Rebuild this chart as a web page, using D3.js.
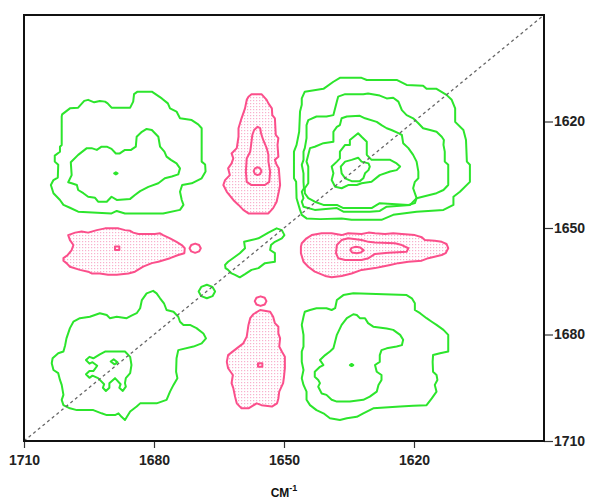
<!DOCTYPE html>
<html>
<head>
<meta charset="utf-8">
<script src="https://cdn.jsdelivr.net/npm/d3@7"></script>
<style>
  body { margin: 0; background: #fff; }
  svg { display: block; }
</style>
</head>
<body>
<svg id="chart"></svg>
<script>
// wavenumber ticks (cm-1)
const xTicks = [1710, 1680, 1650, 1620];
const yTicks = [1620, 1650, 1680, 1710];

// contour lines, points are [x cm-1, y cm-1]
// green = positive, pink = negative (dotted fill)
const greenTL1 = [[1701.2,1618.0],[1699.4,1616.3],[1697.5,1616.1],[1696.1,1614.2],[1695.2,1613.9],[1693.8,1614.6],[1692.5,1614.2],[1691.3,1614.4],[1690.7,1614.9],[1689.8,1616.1],[1685.5,1616.1],[1684.8,1614.4],[1684.6,1612.3],[1683.8,1611.6],[1680.5,1611.6],[1678.2,1613.5],[1676.8,1614.9],[1676.3,1616.3],[1674.8,1617.2],[1674.0,1619.1],[1671.3,1619.6],[1669.8,1620.8],[1669.0,1621.9],[1669.0,1631.3],[1668.2,1632.1],[1668.1,1634.1],[1669.0,1636.0],[1671.3,1637.4],[1673.5,1637.9],[1674.0,1639.8],[1673.6,1642.1],[1673.2,1643.5],[1674.0,1644.9],[1677.9,1645.9],[1686.7,1645.9],[1688.6,1645.2],[1689.8,1645.9],[1697.5,1645.4],[1699.4,1644.3],[1700.9,1643.5],[1701.7,1642.1],[1703.2,1640.2],[1703.8,1637.9],[1703.2,1636.5],[1702.2,1635.8],[1702.1,1632.2],[1702.9,1631.3],[1702.9,1629.6],[1701.7,1628.5],[1701.7,1627.1],[1701.3,1626.6],[1701.3,1618.6]];
const greenTL2 = [[1699.2,1631.5],[1697.5,1629.4],[1695.5,1627.5],[1694.4,1627.5],[1693.2,1628.0],[1692.1,1627.1],[1690.9,1627.1],[1689.8,1627.7],[1688.8,1629.0],[1687.9,1629.0],[1686.7,1628.0],[1685.3,1628.0],[1684.2,1627.1],[1684.0,1624.3],[1682.8,1622.9],[1681.7,1622.1],[1680.5,1622.4],[1679.0,1624.3],[1678.6,1627.1],[1677.6,1628.5],[1677.1,1629.9],[1676.1,1630.8],[1674.8,1631.8],[1674.0,1633.2],[1674.4,1634.9],[1675.9,1635.5],[1677.5,1636.0],[1679.0,1637.4],[1681.3,1638.4],[1683.2,1639.6],[1684.4,1640.7],[1685.5,1641.8],[1688.6,1642.1],[1689.8,1641.2],[1690.9,1642.6],[1692.9,1642.6],[1693.6,1641.5],[1695.2,1641.2],[1696.3,1640.2],[1697.5,1639.3],[1697.8,1637.9],[1699.0,1637.4],[1699.8,1637.1],[1699.0,1635.1]];
const greenTL3 = [[1689.2,1634.6],[1688.8,1634.3],[1688.4,1634.6],[1688.8,1634.9]];

const pinkTop1 = [[1658.2,1613.0],[1657.5,1612.3],[1655.2,1612.3],[1654.0,1613.9],[1653.6,1614.9],[1652.8,1616.3],[1652.7,1618.2],[1652.1,1619.1],[1651.9,1623.8],[1651.3,1624.7],[1651.5,1626.6],[1651.3,1629.9],[1652.1,1630.8],[1651.7,1632.2],[1651.2,1633.2],[1650.9,1637.9],[1651.2,1639.8],[1651.7,1642.6],[1652.5,1644.4],[1653.6,1645.9],[1658.2,1645.9],[1659.4,1644.9],[1660.5,1643.5],[1661.7,1642.1],[1663.2,1639.8],[1664.0,1637.9],[1663.6,1636.5],[1662.5,1635.1],[1662.9,1633.2],[1662.1,1631.8],[1661.7,1630.4],[1662.1,1629.0],[1660.9,1627.5],[1660.5,1624.3],[1660.5,1621.9],[1659.8,1619.1],[1659.0,1616.3],[1658.6,1613.9]];
const pinkTop2 = [[1656.9,1622.4],[1656.1,1621.5],[1655.5,1621.9],[1655.3,1623.3],[1654.8,1625.2],[1654.0,1627.5],[1653.6,1629.4],[1653.6,1631.3],[1653.2,1634.1],[1653.4,1637.0],[1654.4,1637.9],[1657.5,1637.9],[1658.6,1637.0],[1658.8,1634.1],[1658.6,1630.4],[1657.8,1628.5],[1657.5,1625.7],[1657.3,1623.8]];
const pinkTop3 = [[1657.0,1634.0],[1656.7,1633.2],[1656.1,1632.9],[1655.5,1633.2],[1655.2,1634.0],[1655.5,1634.8],[1656.1,1635.1],[1656.7,1634.8]];

const greenTR1 = [[1645.9,1613.5],[1645.2,1611.6],[1640.9,1610.8],[1638.6,1608.8],[1637.1,1607.7],[1632.1,1607.7],[1630.9,1608.3],[1624.0,1608.3],[1621.7,1609.7],[1617.9,1609.9],[1617.1,1610.8],[1614.8,1610.8],[1612.5,1612.5],[1611.3,1613.9],[1610.5,1616.3],[1610.5,1620.1],[1608.6,1622.4],[1608.0,1625.2],[1607.8,1631.3],[1607.1,1632.2],[1607.1,1637.0],[1609.4,1639.8],[1610.9,1641.2],[1610.9,1643.5],[1613.2,1644.9],[1619.4,1645.4],[1624.8,1646.3],[1627.5,1647.7],[1634.4,1647.7],[1636.7,1647.3],[1641.7,1647.5],[1644.8,1647.3],[1645.9,1646.3],[1646.3,1644.9],[1647.1,1641.6],[1647.2,1637.0],[1647.7,1636.0],[1647.7,1628.5],[1647.1,1626.6],[1646.5,1622.9],[1646.3,1617.2],[1645.9,1615.3]];
const greenTR2 = [[1637.8,1614.4],[1637.5,1613.0],[1635.9,1612.3],[1631.7,1612.3],[1630.6,1612.1],[1627.9,1612.7],[1626.3,1613.5],[1624.8,1613.3],[1623.6,1614.4],[1622.8,1616.8],[1621.7,1618.2],[1620.2,1619.1],[1619.0,1620.5],[1617.9,1621.9],[1616.3,1622.4],[1614.8,1622.9],[1613.6,1624.3],[1613.1,1625.2],[1613.2,1626.6],[1612.9,1628.5],[1612.9,1631.3],[1612.1,1632.2],[1612.1,1637.9],[1613.2,1639.3],[1614.8,1640.2],[1619.4,1641.6],[1620.9,1643.5],[1626.3,1644.0],[1627.9,1645.2],[1630.2,1645.4],[1636.3,1645.4],[1637.8,1644.4],[1642.9,1644.9],[1645.5,1644.0],[1645.9,1642.6],[1645.5,1641.6],[1645.9,1639.8],[1645.4,1638.8],[1645.5,1637.0],[1645.5,1634.6],[1645.9,1632.2],[1645.5,1630.8],[1645.5,1628.5],[1645.2,1627.5],[1644.8,1624.7],[1644.8,1621.0],[1644.4,1619.6],[1642.5,1618.6],[1640.2,1618.6],[1638.6,1618.2],[1638.2,1616.3]];
const greenTR3 = [[1637.1,1621.0],[1636.7,1619.1],[1635.5,1618.6],[1632.5,1618.4],[1631.3,1619.1],[1628.6,1620.1],[1627.5,1621.0],[1626.3,1621.9],[1625.2,1622.4],[1623.6,1623.3],[1622.8,1623.8],[1622.5,1626.1],[1621.3,1627.5],[1620.2,1629.4],[1619.4,1631.3],[1619.0,1634.1],[1619.0,1636.0],[1619.8,1637.0],[1620.2,1638.8],[1619.4,1641.6],[1619.8,1643.0],[1621.3,1643.5],[1627.9,1643.0],[1629.8,1644.4],[1636.3,1644.4],[1637.8,1643.5],[1640.9,1643.5],[1642.9,1642.6],[1644.4,1641.6],[1645.2,1640.2],[1645.2,1638.8],[1644.4,1637.4],[1644.4,1632.7],[1644.8,1631.3],[1644.4,1629.4],[1644.0,1627.5],[1642.9,1627.1],[1640.9,1626.1],[1638.6,1625.7],[1638.6,1622.9],[1637.8,1621.5]];
const greenTR4 = [[1634.8,1625.2],[1632.9,1623.3],[1632.1,1624.3],[1630.9,1625.7],[1630.9,1629.4],[1629.8,1630.8],[1625.5,1630.8],[1624.0,1631.8],[1623.2,1632.7],[1624.0,1633.7],[1625.5,1634.1],[1627.9,1635.1],[1629.8,1637.0],[1632.1,1637.4],[1633.2,1637.9],[1635.2,1637.9],[1636.7,1638.8],[1638.2,1638.4],[1639.0,1636.5],[1638.6,1634.6],[1639.0,1632.7],[1637.8,1631.3],[1637.1,1630.4],[1637.1,1628.5],[1635.9,1626.6],[1634.8,1626.6]];
const greenTR5 = [[1635.9,1631.3],[1634.4,1630.8],[1632.9,1630.2],[1632.1,1631.3],[1630.5,1631.8],[1630.2,1632.7],[1630.5,1633.7],[1631.3,1634.6],[1631.7,1636.0],[1632.5,1636.8],[1634.4,1636.8],[1635.9,1636.0],[1636.7,1634.6],[1636.9,1632.7]];

const pinkLeft1 = [[1699.8,1652.0],[1698.2,1651.3],[1696.7,1651.0],[1695.2,1651.3],[1693.2,1650.6],[1691.3,1650.1],[1688.2,1650.1],[1686.7,1650.6],[1685.5,1650.8],[1684.8,1651.3],[1683.6,1651.7],[1679.8,1651.7],[1678.6,1651.5],[1677.9,1652.0],[1676.3,1652.9],[1674.8,1653.9],[1673.6,1654.8],[1672.9,1655.7],[1673.0,1657.1],[1674.4,1657.6],[1676.3,1658.5],[1679.0,1659.5],[1680.5,1659.9],[1682.5,1660.9],[1684.4,1662.3],[1685.9,1662.8],[1688.6,1663.2],[1690.6,1663.2],[1692.5,1662.8],[1694.4,1662.8],[1695.2,1662.3],[1697.1,1661.8],[1699.4,1660.9],[1700.2,1659.9],[1700.9,1659.2],[1700.9,1658.5],[1699.9,1657.6],[1699.0,1656.2],[1698.6,1654.8],[1699.4,1653.4]];
const pinkLeft2 = [[1689.0,1655.2],[1688.0,1655.2],[1688.0,1656.2],[1689.0,1656.2]];
const pinkLeft3 = [[1671.8,1655.7],[1671.4,1654.8],[1670.5,1654.4],[1669.6,1654.8],[1669.2,1655.7],[1669.6,1656.6],[1670.5,1657.0],[1671.4,1656.6]];

const greenMid1 = [[1663.6,1660.4],[1662.9,1659.5],[1661.3,1658.1],[1660.2,1657.1],[1659.0,1655.7],[1659.2,1653.9],[1657.5,1653.4],[1655.9,1652.9],[1653.6,1651.3],[1651.7,1650.1],[1650.5,1650.6],[1649.9,1652.0],[1650.5,1652.9],[1652.1,1653.9],[1653.0,1654.8],[1653.2,1656.2],[1652.1,1657.1],[1652.1,1659.5],[1654.4,1659.9],[1655.9,1661.3],[1657.5,1661.8],[1659.0,1663.0],[1660.2,1663.9],[1661.3,1663.2],[1662.1,1662.8],[1662.9,1661.8],[1663.5,1661.3]];
const greenMid2 = [[1669.7,1667.9],[1669.1,1666.6],[1667.8,1666.0],[1666.5,1666.6],[1665.9,1667.9],[1666.5,1669.2],[1667.8,1669.8],[1669.1,1669.2]];

const pinkRight1 = [[1645.9,1654.3],[1644.8,1652.9],[1643.6,1652.0],[1641.3,1651.5],[1639.0,1651.5],[1636.7,1652.0],[1635.2,1651.5],[1632.1,1651.7],[1630.5,1651.3],[1629.0,1651.5],[1626.7,1651.7],[1624.8,1651.5],[1622.8,1651.7],[1619.8,1652.0],[1618.2,1652.6],[1617.5,1653.4],[1615.2,1653.6],[1613.6,1653.9],[1612.5,1654.5],[1612.1,1655.7],[1612.7,1657.1],[1613.6,1657.6],[1616.7,1658.5],[1618.2,1659.2],[1621.3,1659.5],[1623.6,1659.9],[1625.5,1660.4],[1627.5,1660.9],[1629.0,1661.3],[1632.1,1661.8],[1634.4,1662.8],[1636.7,1663.5],[1639.0,1663.9],[1640.5,1663.5],[1642.9,1662.3],[1644.4,1660.9],[1645.5,1659.5],[1646.1,1657.1],[1646.1,1655.3]];
const pinkRight2 = [[1637.8,1654.8],[1636.7,1653.4],[1635.2,1652.9],[1632.1,1653.4],[1630.5,1653.9],[1629.0,1654.1],[1624.4,1654.3],[1622.8,1654.8],[1621.3,1655.7],[1621.7,1656.7],[1625.9,1657.0],[1629.0,1657.3],[1630.5,1658.5],[1632.1,1659.0],[1635.9,1659.0],[1637.5,1658.5],[1638.0,1657.1]];
const pinkRight3 = [[1631.6,1656.3],[1632.4,1655.5],[1633.4,1655.3],[1634.4,1655.6],[1634.7,1656.2],[1634.3,1656.9],[1633.2,1657.1],[1632.3,1656.9]];

const greenBL1 = [[1703.4,1686.7],[1702.1,1685.3],[1700.9,1684.8],[1700.5,1683.0],[1700.2,1681.1],[1699.4,1678.2],[1698.6,1676.4],[1697.1,1675.4],[1694.8,1675.0],[1692.5,1674.0],[1690.9,1674.5],[1690.2,1675.4],[1688.6,1675.0],[1686.3,1675.4],[1685.2,1674.7],[1684.0,1674.0],[1683.2,1672.6],[1682.8,1670.3],[1681.7,1668.4],[1680.2,1667.7],[1679.4,1668.4],[1678.6,1669.8],[1677.7,1671.2],[1677.1,1673.1],[1675.5,1673.6],[1674.4,1675.0],[1674.0,1676.4],[1673.2,1677.3],[1671.7,1677.3],[1670.2,1678.2],[1668.6,1679.7],[1668.0,1681.1],[1669.0,1682.5],[1670.9,1683.4],[1674.4,1684.4],[1674.8,1686.7],[1674.9,1690.5],[1674.6,1692.3],[1675.5,1694.2],[1676.3,1696.1],[1677.1,1698.4],[1679.4,1699.4],[1683.2,1699.4],[1684.0,1700.3],[1685.5,1701.7],[1686.7,1704.1],[1687.5,1703.2],[1688.2,1702.2],[1689.0,1702.7],[1690.9,1702.7],[1692.1,1702.2],[1694.0,1701.3],[1697.8,1701.3],[1699.4,1700.8],[1700.9,1699.9],[1701.3,1698.4],[1700.9,1697.0],[1701.3,1694.2],[1701.7,1692.8],[1702.1,1690.9],[1703.2,1690.0],[1703.6,1688.1]];
const greenBL2 = [[1692.5,1685.6],[1691.3,1684.8],[1686.7,1684.8],[1685.5,1686.3],[1685.2,1688.6],[1685.5,1690.9],[1686.5,1692.3],[1686.7,1693.7],[1686.5,1694.7],[1687.2,1695.9],[1688.0,1695.0],[1687.7,1694.0],[1689.0,1692.3],[1690.3,1693.7],[1690.3,1695.0],[1691.1,1695.9],[1691.8,1695.0],[1691.5,1694.0],[1692.9,1692.3],[1694.2,1691.6],[1694.9,1692.2],[1695.7,1691.2],[1694.9,1690.3],[1694.0,1690.3],[1693.1,1688.8],[1694.2,1687.8],[1694.9,1688.2],[1695.7,1687.2],[1694.9,1686.3],[1694.0,1686.7]];
const greenBL3 = [[1690.0,1687.6],[1689.3,1687.0],[1688.4,1687.8],[1689.1,1688.4]];

const pinkBottom1 = [[1657.1,1674.3],[1655.5,1673.1],[1653.2,1673.6],[1652.5,1675.0],[1652.1,1676.8],[1651.3,1677.8],[1651.3,1679.7],[1650.9,1681.1],[1651.1,1683.4],[1650.5,1684.8],[1649.8,1686.3],[1649.8,1689.5],[1650.0,1691.9],[1650.2,1693.7],[1651.1,1696.1],[1651.3,1698.0],[1651.6,1699.4],[1652.8,1700.3],[1655.2,1699.9],[1656.3,1699.4],[1658.2,1700.8],[1659.8,1700.8],[1660.9,1699.4],[1661.3,1697.5],[1661.7,1695.1],[1662.1,1693.7],[1661.8,1691.4],[1662.9,1689.5],[1663.2,1687.7],[1662.9,1685.8],[1660.9,1683.9],[1659.4,1682.5],[1658.6,1680.6],[1658.2,1677.3],[1657.8,1675.4]];
const pinkBottom2 = [[1656.75,1670.6],[1656.35,1669.65],[1655.4,1669.25],[1654.45,1669.65],[1654.05,1670.6],[1654.45,1671.55],[1655.4,1671.95],[1656.35,1671.55]];
const pinkBottom3 = [[1656.0,1688.1],[1655.0,1688.1],[1655.0,1689.1],[1656.0,1689.1]];

const greenBR1 = [[1645.2,1673.6],[1644.0,1673.1],[1642.5,1672.6],[1640.2,1672.6],[1639.0,1673.1],[1638.2,1672.6],[1637.8,1670.3],[1636.3,1668.9],[1634.0,1668.4],[1621.7,1668.9],[1620.5,1669.8],[1619.8,1671.2],[1619.8,1673.1],[1618.6,1674.0],[1617.1,1675.4],[1615.9,1676.4],[1614.8,1677.3],[1613.2,1678.7],[1612.1,1680.1],[1612.1,1684.8],[1614.0,1685.3],[1615.6,1685.8],[1615.7,1687.7],[1615.6,1690.5],[1614.8,1691.4],[1614.6,1692.8],[1615.2,1694.2],[1614.8,1696.1],[1615.9,1698.0],[1617.1,1699.9],[1620.2,1700.1],[1623.2,1700.3],[1629.4,1700.8],[1631.7,1702.2],[1633.2,1703.2],[1635.5,1703.6],[1637.1,1704.1],[1639.4,1703.6],[1640.9,1702.2],[1642.5,1701.3],[1644.0,1699.9],[1644.8,1698.4],[1644.8,1696.1],[1645.5,1694.2],[1645.9,1692.3],[1645.5,1690.0],[1645.9,1687.7],[1645.9,1684.8],[1645.5,1683.4],[1645.5,1680.1],[1645.9,1677.3],[1645.5,1675.0]];
const greenBR2 = [[1637.8,1680.1],[1636.7,1677.3],[1635.5,1675.4],[1634.0,1674.3],[1633.2,1674.5],[1632.5,1675.4],[1631.3,1675.4],[1630.6,1676.8],[1629.4,1677.8],[1626.3,1678.3],[1624.8,1678.7],[1623.2,1680.1],[1622.5,1681.5],[1622.8,1683.0],[1624.0,1683.4],[1626.3,1683.9],[1627.5,1684.4],[1627.9,1685.8],[1627.9,1687.7],[1629.0,1688.6],[1628.6,1690.5],[1627.5,1691.4],[1627.5,1692.8],[1628.2,1694.2],[1628.6,1696.1],[1630.2,1697.5],[1631.7,1698.4],[1634.8,1698.9],[1637.8,1698.9],[1639.0,1698.4],[1640.2,1697.0],[1641.3,1696.6],[1642.1,1694.7],[1641.7,1693.7],[1642.1,1692.8],[1642.9,1691.9],[1642.9,1690.5],[1641.7,1689.1],[1640.9,1688.6],[1641.7,1687.2],[1640.5,1685.8],[1639.4,1684.8],[1638.6,1683.9],[1638.2,1682.0]];
const greenBR3 = [[1634.8,1688.6],[1634.4,1688.3],[1634.0,1688.6],[1634.4,1688.9]];

const greenLines = [greenTL1, greenTL2, greenTL3, greenTR1, greenTR2, greenTR3, greenTR4, greenTR5,
  greenMid1, greenMid2, greenBL1, greenBL2, greenBL3, greenBR1, greenBR2, greenBR3];
const pinkLines = [pinkTop1, pinkTop2, pinkTop3, pinkLeft1, pinkLeft2, pinkLeft3,
  pinkRight1, pinkRight2, pinkRight3, pinkBottom1, pinkBottom2, pinkBottom3];

const width = 590;
const height = 502;
const green = "#2ce52c";
const pink = "#fb4f8b";

const svg = d3.select("#chart")
  .attr("width", width)
  .attr("height", height);

const x = d3.scaleLinear().domain([1710, 1590]).range([24, 544]);
const y = d3.scaleLinear().domain([1590, 1710]).range([15, 441]);

const contour = d3.line()
  .x(d => x(d[0]))
  .y(d => y(d[1]))
  .curve(d3.curveLinearClosed);

// dotted fill used inside the negative peaks
const pattern = svg.append("defs").append("pattern")
  .attr("id", "dots")
  .attr("patternUnits", "userSpaceOnUse")
  .attr("width", 3)
  .attr("height", 3);
pattern.append("rect").attr("width", 3).attr("height", 3).attr("fill", "#fff");
pattern.append("rect").attr("x", 1).attr("y", 1).attr("width", 1.2).attr("height", 1.2).attr("fill", "#f9b0cd");

svg.selectAll(".pink")
  .data(pinkLines)
  .enter()
  .append("path")
  .attr("class", "pink")
  .attr("d", contour)
  .attr("fill", (d, i) => (i === 5 || i === 10) ? "none" : "url(#dots)")
  .attr("stroke", pink)
  .attr("stroke-width", 2)
  .attr("stroke-linejoin", "round");

svg.selectAll(".green")
  .data(greenLines)
  .enter()
  .append("path")
  .attr("class", "green")
  .attr("d", contour)
  .attr("fill", "none")
  .attr("stroke", green)
  .attr("stroke-width", 2)
  .attr("stroke-linejoin", "round");

// diagonal
svg.append("line")
  .attr("x1", x(1710)).attr("y1", y(1710))
  .attr("x2", x(1590)).attr("y2", y(1590))
  .attr("stroke", "#666")
  .attr("stroke-width", 1.3)
  .attr("stroke-dasharray", "3,3");

const font = "'Liberation Sans', Arial, sans-serif";

const xAxis = svg.append("g")
  .attr("transform", `translate(0,${y(1710)})`)
  .call(d3.axisBottom(x).tickValues(xTicks).tickFormat(d3.format("d"))
    .tickSize(7).tickPadding(7).tickSizeOuter(0));
xAxis.select(".domain").remove();

const yAxis = svg.append("g")
  .attr("transform", `translate(${x(1590)},0)`)
  .call(d3.axisRight(y).tickValues(yTicks).tickFormat(d3.format("d"))
    .tickSize(9).tickPadding(1).tickSizeOuter(0));
yAxis.select(".domain").remove();

[xAxis, yAxis].forEach(g => {
  g.attr("font-family", font).attr("font-size", 14).attr("font-weight", "bold");
  g.selectAll("text").attr("fill", "#222");
  g.selectAll("line").attr("stroke", "#333").attr("stroke-width", 1.2);
});

// frame
svg.append("rect")
  .attr("x", x(1710))
  .attr("y", y(1590))
  .attr("width", x(1590) - x(1710))
  .attr("height", y(1710) - y(1590))
  .attr("fill", "none")
  .attr("stroke", "#111")
  .attr("stroke-width", 2);

const title = svg.append("text")
  .attr("x", (x(1710) + x(1590)) / 2)
  .attr("y", 497)
  .attr("text-anchor", "middle")
  .attr("font-family", font)
  .attr("font-size", 12)
  .attr("font-weight", "bold")
  .attr("fill", "#111");
title.append("tspan").text("CM");
title.append("tspan").attr("font-size", 9).attr("dy", -6).text("-1");
</script>
</body>
</html>
